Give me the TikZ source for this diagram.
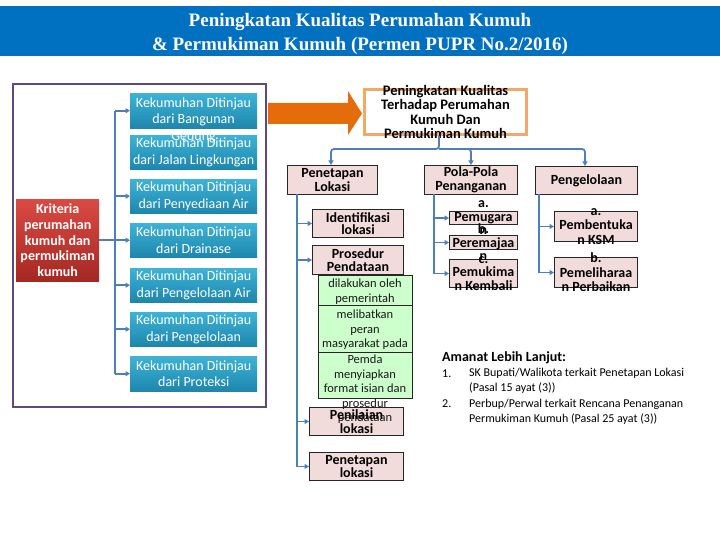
\documentclass[tikz,border=0pt]{standalone}
\usepackage{fontspec}
\setmainfont{Carlito}
\newfontfamily\titlefont{Liberation Serif}
\usetikzlibrary{arrows.meta}
\definecolor{banner}{HTML}{0070C0}
\definecolor{connc}{HTML}{4F7FB8}
\definecolor{frameC}{HTML}{5F497A}
\definecolor{blueT}{HTML}{3DB3D6}
\definecolor{blueB}{HTML}{1E86AD}
\definecolor{redT}{HTML}{DA4A44}
\definecolor{redB}{HTML}{A52823}
\definecolor{pinkF}{HTML}{F2DCDB}
\definecolor{greenF}{HTML}{CCFFCC}
\definecolor{orangeA}{HTML}{E46C0A}
\definecolor{orangeB}{HTML}{F2A868}
\newcommand\mybox[6]{\node[#1,anchor=north west,minimum width={(#4-#2)*1pt},minimum height={(#5-#3)*1pt},inner sep=0pt] (#6) at (#2,#3) {};}
\tikzset{
  conn/.style={draw=connc,line width=1.8pt},
  arr/.style={conn,-{Triangle[length=4.5pt,width=5pt]}},
  frameS/.style={draw=frameC,line width=2.2pt},
  blueS/.style={rectangle,top color=blueT,bottom color=blueB},
  blueTxt/.style={text=white,align=center,inner sep=0pt,font=\fontsize{14}{16.5}\selectfont},
  redS/.style={rectangle,top color=redT,bottom color=redB},
  redTxt/.style={text=white,align=center,inner sep=0pt,font=\bfseries\fontsize{14}{15.7}\selectfont},
  pinkS/.style={rectangle,draw=black!85,line width=1pt,fill=pinkF},
  pinkTxt/.style={text=black,align=center,inner sep=0pt,font=\bfseries\fontsize{14}{13.5}\selectfont},
  greenS/.style={rectangle,draw=black!85,line width=0.8pt,fill=greenF},
  greenTxt/.style={text=black!90,align=center,inner sep=0pt,font=\fontsize{12.5}{14.5}\selectfont},
  topS/.style={rectangle,draw=orangeB,line width=3pt,fill=white},
  topTxt/.style={text=black,align=center,inner sep=0pt,font=\bfseries\fontsize{14.5}{14.3}\selectfont},
}
\begin{document}
\begin{tikzpicture}[x=1pt,y=-1pt]
\useasboundingbox (0,0) rectangle (720,540);
% banner
\mybox{fill=banner}{0}{6}{720}{56}{banner}
\node[text=white,align=center,inner sep=0pt,font=\titlefont\bfseries\fontsize{19}{24}\selectfont] (title) at (360,34) {Peningkatan Kualitas Perumahan Kumuh\\\& Permukiman Kumuh (Permen PUPR No.2/2016)};
% left frame
\mybox{frameS}{12}{83}{265}{406}{frame}
\mybox{redS}{16}{199}{99}{281}{krit}
\node[redTxt] (kritT) at (krit.center) {Kriteria\\perumahan\\kumuh dan\\permukiman\\kumuh};
\mybox{blueS}{130}{93}{257}{128}{b1}
\mybox{blueS}{130}{135}{257}{169}{b2}
\mybox{blueS}{130}{179}{257}{213}{b3}
\mybox{blueS}{130}{223}{257}{257}{b4}
\mybox{blueS}{130}{268}{257}{302}{b5}
\mybox{blueS}{130}{312}{257}{346}{b6}
\mybox{blueS}{130}{356}{257}{391}{b7}
\node[blueTxt] (b1t) at (193.5,120) {Kekumuhan Ditinjau\\dari Bangunan\\Gedung};
\node[blueTxt] (b2t) at (b2.center) {Kekumuhan Ditinjau\\dari Jalan Lingkungan};
\node[blueTxt] (b3t) at (b3.center) {Kekumuhan Ditinjau\\dari Penyediaan Air};
\node[blueTxt] (b4t) at (b4.center) {Kekumuhan Ditinjau\\dari Drainase};
\node[blueTxt] (b5t) at (b5.center) {Kekumuhan Ditinjau\\dari Pengelolaan Air};
\node[blueTxt] (b6t) at (b6.center) {Kekumuhan Ditinjau\\dari Pengelolaan};
\node[blueTxt] (b7t) at (b7.center) {Kekumuhan Ditinjau\\dari Proteksi};
\coordinate (tL) at (115,111);
\draw[conn] (b1.west -| tL) -- (b7.west -| tL);
\draw[conn] (krit.east) -- (krit.east -| tL);
\foreach \b in {b1,b3,b4,b5,b6,b7}{\draw[arr] (\b.west -| tL) -- (\b.west);}
% big arrow
\fill[orangeA] (268,103) -- (348,103) -- (348,91) -- (362,113.5) -- (348,135) -- (348,124) -- (268,124) -- cycle;
% top box
\mybox{topS}{363}{88}{525}{133}{top}
\node[topTxt] (topT) at (top.center) {Peningkatan Kualitas\\Terhadap Perumahan\\Kumuh Dan\\Permukiman Kumuh};
% level 2
\mybox{pinkS}{287}{165}{377}{194}{pen}
\node[pinkTxt] (penT) at (pen.center) {Penetapan\\Lokasi};
\mybox{pinkS}{424}{165}{517}{194}{pola}
\node[pinkTxt] (polaT) at (pola.center) {Pola-Pola\\Penanganan};
\mybox{pinkS}{535}{166}{637}{194}{peng}
\node[pinkTxt] (pengT) at (peng.center) {Pengelolaan};
\coordinate (bar) at (439,149);
\draw[arr,rounded corners=3pt] (top.south -| bar) -- (bar) -| (pen.north -| 331,0);
\draw[arr,rounded corners=3pt] (bar) -| (pola.north -| 471,0);
\draw[arr,rounded corners=3pt] (bar) -| (peng.north -| 585,0);
% Penetapan children
\mybox{pinkS}{312}{209}{403}{237}{ident}
\node[pinkTxt,font=\bfseries\fontsize{14}{12.5}\selectfont] (identT) at (ident.center) {Identifikasi\\lokasi};
\mybox{pinkS}{312}{245}{403}{274}{pros}
\node[pinkTxt] (prosT) at (pros.center) {Prosedur\\Pendataan};
\mybox{greenS}{318}{275}{412}{305}{g1}
\mybox{greenS}{318}{305}{412}{352}{g2}
\mybox{greenS}{318}{352}{412}{398}{g3}
\node[greenTxt] (g1t) at (365,291.5) {dilakukan oleh\\pemerintah};
\node[greenTxt] (g2t) at (365,330) {melibatkan\\peran\\masyarakat pada};
\mybox{pinkS}{309}{407}{403}{435}{nil}
\mybox{pinkS}{309}{452}{403}{480}{pl}
\node[greenTxt] (g3t) at (365,389.5) {Pemda\\menyiapkan\\format isian dan\\prosedur\\pendataan};
\node[pinkTxt] (nilT) at (nil.center) {Penilaian\\lokasi};
\node[pinkTxt] (plT) at (pl.center) {Penetapan\\lokasi};
\coordinate (tP) at (297,194);
\draw[conn] (tP) -- (tP |- pl.west);
\foreach \b in {ident,pros,nil,pl}{\draw[arr] (\b.west -| tP) -- (\b.west);}
% Pola children
\mybox{pinkS}{449}{211}{517}{224}{pa}
\mybox{pinkS}{449}{235}{517}{249}{pb}
\mybox{pinkS}{449}{259}{517}{287}{pc}
\node[pinkTxt] (paT) at (pa.center) {a.\\Pemugara\\n};
\node[pinkTxt] (pbT) at (pb.center) {b.\\Peremajaa\\n};
\node[pinkTxt] (pcT) at (pc.center) {c.\\Pemukima\\n Kembali};
\coordinate (tQ) at (434,194);
\draw[conn] (tQ) -- (tQ |- pc.west);
\foreach \b in {pa,pb,pc}{\draw[arr] (\b.west -| tQ) -- (\b.west);}
% Pengelolaan children
\mybox{pinkS}{554}{211}{637}{241}{ga}
\mybox{pinkS}{554}{257}{637}{287}{gb}
\node[pinkTxt,font=\bfseries\fontsize{14}{14.5}\selectfont] (gaT) at (ga.center) {a.\\Pembentuka\\n KSM};
\node[pinkTxt,font=\bfseries\fontsize{14}{14.5}\selectfont] (gbT) at (gb.center) {b.\\Pemeliharaa\\n Perbaikan};
\coordinate (tR) at (539,194);
\draw[conn] (tR) -- (tR |- gb.west);
\foreach \b in {ga,gb}{\draw[arr] (\b.west -| tR) -- (\b.west);}
% Amanat
\node[anchor=west,inner sep=0pt,font=\bfseries\fontsize{14}{16}\selectfont] (am) at (442,358) {Amanat Lebih Lanjut:};
\node[anchor=west,inner sep=0pt,font=\fontsize{12}{15}\selectfont] (n1) at (442,373.5) {1.};
\node[anchor=north west,inner sep=0pt,font=\fontsize{12}{15.3}\selectfont,align=left] (l1) at (469,368) {SK Bupati/Walikota terkait Penetapan Lokasi\\(Pasal 15 ayat (3))};
\node[anchor=west,inner sep=0pt,font=\fontsize{12}{15}\selectfont] (n2) at (442,404) {2.};
\node[anchor=north west,inner sep=0pt,font=\fontsize{12}{15.3}\selectfont,align=left] (l2) at (469,398.5) {Perbup/Perwal terkait Rencana Penanganan\\Permukiman Kumuh (Pasal 25 ayat (3))};
\end{tikzpicture}
\end{document}
